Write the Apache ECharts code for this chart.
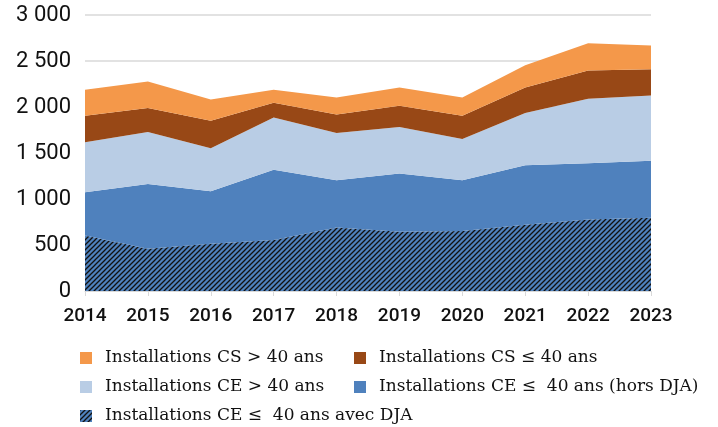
<!DOCTYPE html>
<html>
<head>
<meta charset="utf-8">
<script src="https://cdn.jsdelivr.net/npm/echarts@6/dist/echarts.min.js"></script>
<style>
  html, body { margin: 0; padding: 0; background: #fff; }
  #chart { width: 718px; height: 427px; }
</style>
</head>
<body>
<div id="chart"></div>
<script>
// categories
var years = ['2014','2015','2016','2017','2018','2019','2020','2021','2022','2023']
// series values (stacked from bottom to top)
var ceDja     = [604, 459, 513, 553, 690, 643, 651, 719, 777, 795]
var ceHorsDja = [470, 705, 571, 766, 514, 633, 553, 647, 611, 622]
var ceOver40  = [542, 564, 467, 568, 513, 506, 448, 568, 701, 708]
var csUnder40 = [289, 260, 300, 159, 202, 231, 253, 278, 307, 286]
var csOver40  = [282, 289, 231, 141, 185, 199, 199, 242, 297, 257]
var yTicks = [0, 500, 1000, 1500, 2000, 2500, 3000]

var names = {
  csOver: 'Installations CS > 40 ans',
  csUnder: 'Installations CS \u2264 40 ans',
  ceOver: 'Installations CE > 40 ans',
  ceHors: 'Installations CE \u2264  40 ans (hors DJA)',
  ceDja: 'Installations CE \u2264  40 ans avec DJA'
}

// hatched fill for the DJA area
function hatch(){
  var c = document.createElement('canvas')
  c.width = 5; c.height = 5
  var ctx = c.getContext('2d')
  ctx.fillStyle = '#4F81BD'
  ctx.fillRect(0,0,5,5)
  ctx.strokeStyle = '#111'
  ctx.lineWidth = 1.3
  ctx.beginPath()
  ctx.moveTo(-1,6); ctx.lineTo(6,-1)
  ctx.moveTo(-1,1); ctx.lineTo(1,-1)
  ctx.moveTo(4,6); ctx.lineTo(6,4)
  ctx.stroke()
  return c
}
var pattern = {image: hatch(), repeat: 'repeat'}

function fmt(v){
  if(v >= 1000){
    return Math.floor(v/1000) + ' ' + String(v%1000).padStart(3,'0')
  }
  return String(v)
}

function area(name, data, color){
  return {
    name: name,
    type: 'line',
    stack: 'total',
    data: data,
    symbol: 'none',
    lineStyle: {width: 0},
    itemStyle: {color: color},
    areaStyle: {color: color, opacity: 1},
    emphasis: {disabled: true}
  }
}

function legendAt(name, left, top){
  return {
    data: [name],
    left: left,
    top: top,
    padding: 0,
    icon: 'rect',
    itemWidth: 12,
    itemHeight: 12,
    selectedMode: false,
    textStyle: {
      fontFamily: 'DejaVu Serif',
      fontSize: 17,
      lineHeight: 18,
      color: '#111',
      padding: [0,0,0,8]
    }
  }
}

var chart = echarts.init(document.getElementById('chart'))
chart.setOption({
  animation: false,
  grid: {left: 85, right: 67, top: 15, bottom: 136},
  legend: [
    legendAt(names.csOver, 80, 349),
    legendAt(names.csUnder, 354, 349),
    legendAt(names.ceOver, 80, 378),
    legendAt(names.ceHors, 354, 378),
    legendAt(names.ceDja, 80, 407)
  ],
  xAxis: {
    type: 'category',
    data: years,
    boundaryGap: false,
    axisLine: {lineStyle: {color: '#D9D9D9', width: 1}},
    axisTick: {show: true, length: 5, lineStyle: {color: '#D9D9D9'}},
    axisLabel: {
      color: '#111',
      fontFamily: 'Roboto',
      fontWeight: 500,
      fontSize: 19,
      margin: 16
    }
  },
  yAxis: {
    type: 'value',
    min: yTicks[0],
    max: yTicks[yTicks.length-1],
    interval: 500,
    axisLine: {show: false},
    axisTick: {show: false},
    splitLine: {lineStyle: {color: '#D9D9D9', width: 1.5}},
    axisLabel: {
      color: '#111',
      fontFamily: 'Roboto',
      fontSize: 22,
      margin: 14,
      formatter: fmt
    }
  },
  series: [
    area(names.ceDja, ceDja, pattern),
    area(names.ceHors, ceHorsDja, '#4F81BD'),
    area(names.ceOver, ceOver40, '#B9CDE5'),
    area(names.csUnder, csUnder40, '#984816'),
    area(names.csOver, csOver40, '#F4984A')
  ]
})
</script>
</body>
</html>
